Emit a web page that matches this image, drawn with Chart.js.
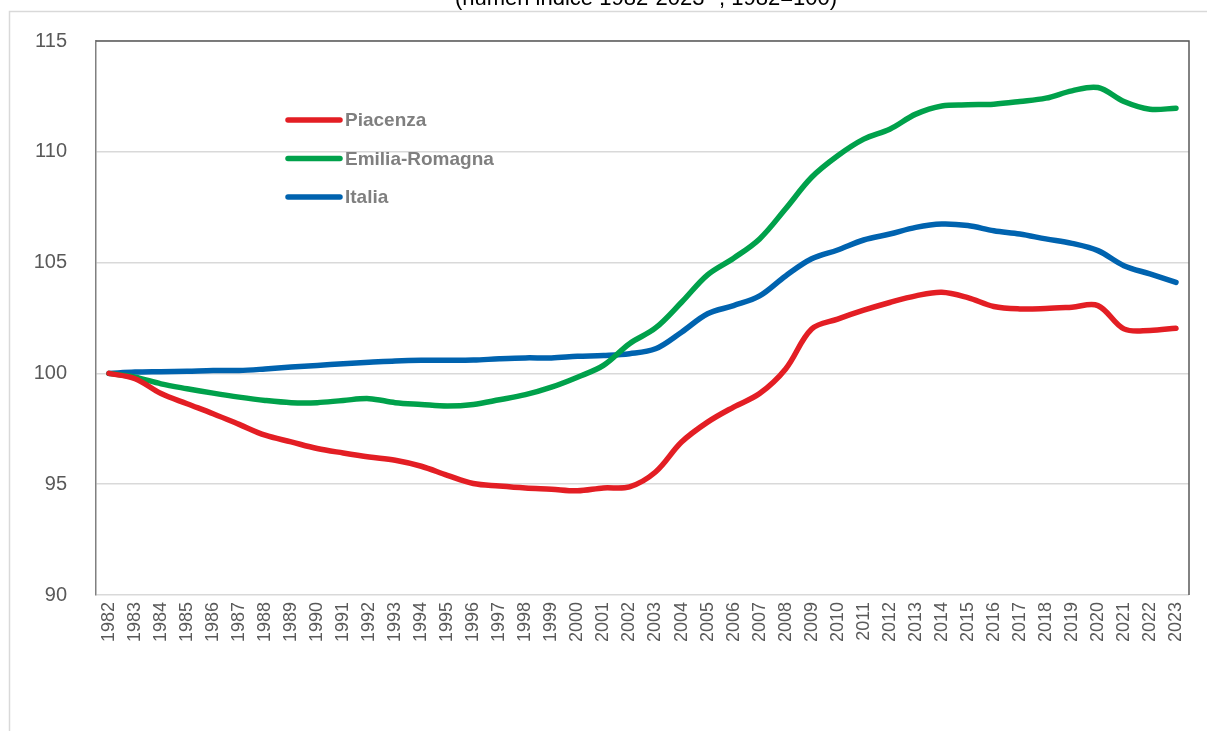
<!DOCTYPE html>
<html>
<head>
<meta charset="utf-8">
<script src="https://cdn.jsdelivr.net/npm/chart.js@4"></script>
<style>
  html, body { margin: 0; padding: 0; background: #fff; overflow: hidden; }
  #wrap { position: relative; width: 1207px; height: 731px; }
  #titolo {
    position: absolute; left: 346px; top: -15px; width: 600px;
    text-align: center; font-family: "Liberation Sans", Arial, sans-serif;
    font-size: 22px; color: #000; white-space: nowrap;
  }
</style>
</head>
<body>
<div id="wrap">
  <canvas id="grafico" width="1207" height="731"></canvas>
  <div id="titolo">(numeri indice 1982-2023 *, 1982=100)</div>
</div>
<script>
// anni
var anni = ["1982","1983","1984","1985","1986","1987","1988","1989","1990","1991",
            "1992","1993","1994","1995","1996","1997","1998","1999","2000","2001",
            "2002","2003","2004","2005","2006","2007","2008","2009","2010","2011",
            "2012","2013","2014","2015","2016","2017","2018","2019","2020","2021",
            "2022","2023"];

// valori (1982=100)
var piacenza = [100, 99.76, 99.09, 98.63, 98.18, 97.70, 97.21, 96.91, 96.61, 96.41,
                96.23, 96.08, 95.81, 95.40, 95.03, 94.92, 94.83, 94.77, 94.70, 94.83,
                94.88, 95.55, 96.90, 97.80, 98.48, 99.09, 100.20, 102.00, 102.45, 102.85,
                103.20, 103.50, 103.66, 103.42, 103.02, 102.91, 102.93, 102.99, 103.06, 102.01,
                101.94, 102.04];
var emiliaRomagna = [100, 99.83, 99.53, 99.31, 99.11, 98.93, 98.78, 98.68, 98.68, 98.78,
                     98.86, 98.68, 98.60, 98.53, 98.60, 98.81, 99.04, 99.38, 99.83, 100.36,
                     101.34, 102.05, 103.21, 104.45, 105.20, 106.07, 107.43, 108.85, 109.82, 110.57,
                     111.02, 111.70, 112.07, 112.12, 112.15, 112.27, 112.42, 112.75, 112.90, 112.27,
                     111.92, 111.97];
var italia = [100, 100.06, 100.08, 100.10, 100.13, 100.13, 100.20, 100.29, 100.36, 100.44,
              100.50, 100.56, 100.59, 100.59, 100.60, 100.66, 100.70, 100.70, 100.77, 100.81,
              100.89, 101.11, 101.86, 102.69, 103.06, 103.50, 104.40, 105.17, 105.57, 106.02,
              106.29, 106.59, 106.74, 106.67, 106.44, 106.29, 106.07, 105.87, 105.54, 104.86,
              104.49, 104.11];

var nomiSerie = ["Piacenza", "Emilia-Romagna", "Italia"];
var coloriSerie = ["#E31E24", "#00A14B", "#0063AF"];
var tickY = [90, 95, 100, 105, 110, 115];

function serie(i, dati) {
  return {
    label: nomiSerie[i],
    data: dati,
    borderColor: coloriSerie[i],
    backgroundColor: coloriSerie[i],
    borderWidth: 5.5,
    pointRadius: 0,
    tension: 0.35,
    borderCapStyle: 'round',
    fill: false
  };
}

// cornice esterna, bordo area grafico, legenda
var cornice = {
  id: 'cornice',
  beforeDraw: function(chart) {
    var ctx = chart.ctx;
    ctx.save();
    ctx.strokeStyle = '#d9d9d9';
    ctx.lineWidth = 1.5;
    ctx.strokeRect(9.5, 11.5, 1250, 800);
    ctx.restore();
  },
  afterDatasetsDraw: function(chart) {
    var ctx = chart.ctx, a = chart.chartArea;
    ctx.save();
    ctx.lineWidth = 1.5;
    ctx.strokeStyle = '#595959';
    ctx.beginPath();
    ctx.moveTo(a.left, a.top);
    ctx.lineTo(a.right, a.top);
    ctx.lineTo(a.right, a.bottom);
    ctx.stroke();

    // legenda
    ctx.lineCap = 'round';
    ctx.lineWidth = 5.5;
    ctx.font = 'bold 19px "Liberation Sans", Arial, sans-serif';
    ctx.textBaseline = 'middle';
    chart.data.datasets.forEach(function(ds, i) {
      var y = 120 + 38.5 * i;
      ctx.strokeStyle = ds.borderColor;
      ctx.beginPath();
      ctx.moveTo(288, y);
      ctx.lineTo(340, y);
      ctx.stroke();
      ctx.fillStyle = '#7F7F7F';
      ctx.fillText(ds.label, 345, y + 1);
    });
    ctx.restore();
  }
};

var grafico = new Chart(document.getElementById('grafico'), {
  type: 'line',
  data: {
    labels: anni,
    datasets: [serie(0, piacenza), serie(1, emiliaRomagna), serie(2, italia)]
  },
  plugins: [cornice],
  options: {
    responsive: false,
    animation: false,
    layout: { padding: { left: 9, top: 40, right: 18, bottom: 36 } },
    plugins: { legend: { display: false }, tooltip: { enabled: false } },
    scales: {
      x: {
        offset: true,
        grid: { display: false, drawTicks: false },
        border: { display: false },
        ticks: {
          color: '#595959',
          font: { family: '"Liberation Sans", Arial, sans-serif', size: 18 },
          minRotation: 90, maxRotation: 90,
          autoSkip: false,
          padding: 7
        },
        afterFit: function(s) { s.height = 100; }
      },
      y: {
        min: 90, max: 115,
        afterBuildTicks: function(s) { s.ticks = tickY.map(function(v) { return { value: v }; }); },
        grid: { color: '#d9d9d9', lineWidth: 1.5, drawTicks: false },
        border: { display: true, color: '#808080', width: 1.5 },
        ticks: {
          color: '#595959',
          font: { family: '"Liberation Sans", Arial, sans-serif', size: 20 },
          padding: 29
        },
        afterFit: function(s) { s.width = 87; }
      }
    }
  }
});
</script>
</body>
</html>
